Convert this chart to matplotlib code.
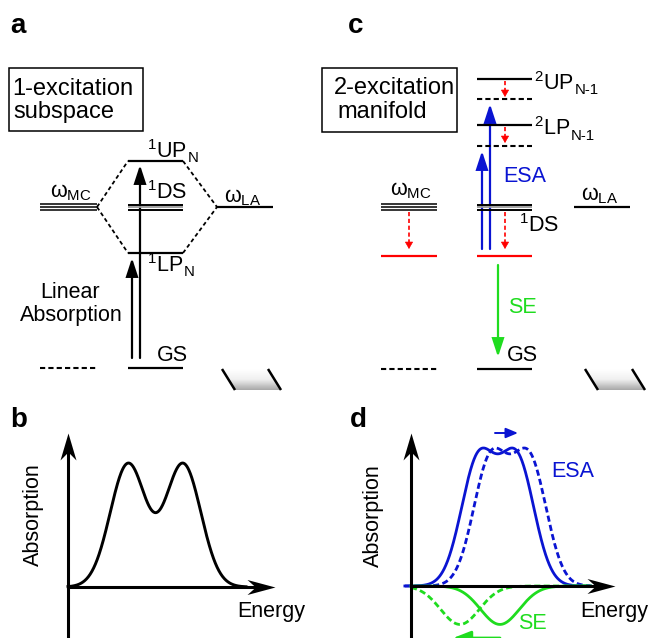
import numpy as np
import matplotlib
matplotlib.use('Agg')
import matplotlib.pyplot as plt
from matplotlib.patches import Rectangle, Polygon, FancyArrowPatch
from matplotlib.path import Path
from matplotlib.colors import LinearSegmentedColormap

plt.rcParams['font.family'] = ['Liberation Sans', 'DejaVu Sans']
plt.rcParams['mathtext.fontset'] = 'custom'
plt.rcParams['mathtext.rm'] = 'Liberation Sans'
plt.rcParams['mathtext.it'] = 'Liberation Sans:italic'
plt.rcParams['mathtext.bf'] = 'Liberation Sans:bold'
plt.rcParams['mathtext.default'] = 'regular'

# ---------------- data ----------------
# energy-level diagram (a): level heights (scheme units, top = small)
a_level_up = 161
a_level_mid = 207
a_level_lp = 253
a_level_gs = 368
# energy-level diagram (c)
c_level_2up = 79
c_level_2up_relaxed = 99
c_level_2lp = 125
c_level_2lp_relaxed = 146
c_level_mid = 207
c_level_relaxed = 256
c_level_gs = 369

# spectrum (b): two gaussian polariton peaks
b_centers = [2.9, 5.56]
b_width = 0.86
b_amp = 0.991
# spectrum (d): ESA band, shifted ESA, SE dips
d_esa_centers = [3.3, 5.2]
d_esa_width = 0.84
d_esa_amp = 1.01
d_esa_shift = 0.6
d_se_center = 4.36
d_se_center_shifted = 2.4
d_se_width = 0.95
d_se_depth = 0.31

BLUE = '#0a14d2'
GREEN = '#1fdc1f'
RED = '#ff0000'

W, H = 650, 638
fig = plt.figure(figsize=(6.5, 6.38), dpi=100)
ax = fig.add_axes([0, 0, 1, 1])
ax.set_xlim(0, W)
ax.set_ylim(H, 0)
ax.axis('off')

FS = 15.5


def level(x0, x1, y, color='k', lw=1.6, ls='-'):
    ax.plot([x0, x1], [y, y], color=color, lw=lw, ls=ls, solid_capstyle='butt')


def triple(x0, x1, y):
    for dy in (-3, 0, 3):
        ax.plot([x0, x1], [y + dy, y + dy], color='k', lw=1.1, solid_capstyle='butt')


def double(x0, x1, y):
    ax.plot([x0, x1], [y - 2.5, y - 2.5], color='k', lw=1.4, solid_capstyle='butt')
    ax.plot([x0, x1], [y, y], color='#9a9a9a', lw=1.3, solid_capstyle='butt')
    ax.plot([x0, x1], [y + 2.5, y + 2.5], color='k', lw=1.4, solid_capstyle='butt')


def arrow(x0, y0, x1, y1, color, lw=1.6, hl=11, hw=3.6):
    p = FancyArrowPatch((x0, y0), (x1, y1),
                        arrowstyle=f'-|>,head_length={hl},head_width={hw}',
                        mutation_scale=1, color=color, lw=lw,
                        shrinkA=0, shrinkB=0, joinstyle='miter')
    ax.add_patch(p)


def dashed_arrow(x, y0, y1, color=RED):
    ax.plot([x, x], [y0, y1 - 5], color=color, lw=1.2, ls=(0, (2.5, 1.6)))
    arrow(x, y1 - 6, x, y1, color, lw=0.5, hl=4.5, hw=2.6)


def gradient_para(xl, xr, yt, dx, yb):
    poly = Polygon([[xl, yt], [xr, yt], [xr + dx, yb], [xl + dx, yb]],
                   closed=True, facecolor='none', edgecolor='none')
    ax.add_patch(poly)
    cmap = LinearSegmentedColormap.from_list('g', ['#ffffff', '#f0f0f0', '#a8a8a8'])
    grad = np.linspace(0, 1, 64).reshape(-1, 1)
    im = ax.imshow(grad, cmap=cmap, extent=[xl, xr + dx, yb, yt],
                   aspect='auto', interpolation='bilinear', zorder=1)
    im.set_clip_path(poly)
    ax.plot([xl, xl + dx], [yt, yb], color='k', lw=1.8, solid_capstyle='butt', zorder=2)
    ax.plot([xr, xr + dx], [yt, yb], color='k', lw=1.8, solid_capstyle='butt', zorder=2)
    ax.set_xlim(0, W)
    ax.set_ylim(H, 0)


def label_with_sub(x, y, sup, main, sub, fs=FS):
    """Superscript + main text + small subscript placed as separate text objects."""
    t = ax.text(x, y, f'$^{{{sup}}}${main}', fontsize=fs, va='baseline')
    fig.canvas.draw()
    bb = t.get_window_extent()
    inv = ax.transData.inverted()
    xe, _ = inv.transform((bb.x1, bb.y0))
    ax.text(xe + 0.5, y + 4.5, sub, fontsize=fs * 0.7, va='baseline')


# ---------------- panel a ----------------
ax.text(10, 33, 'a', fontsize=20, fontweight='bold', va='baseline')
ax.add_patch(Rectangle((9, 68), 134, 63, fill=False, lw=1.1, ec='k'))
ax.text(12, 95, '1-excitation', fontsize=17, va='baseline')
ax.text(13, 118, 'subspace', fontsize=17, va='baseline')

triple(40, 97, a_level_mid)
double(128, 183, a_level_mid)
level(217, 273, a_level_mid)
level(128, 183, a_level_up)
level(128, 183, a_level_lp)
level(128, 183, a_level_gs)
level(40, 97, a_level_gs, ls=(0, (2.5, 1.5)), lw=1.5)
for (xa, ya, xb, yb) in [(97, a_level_mid, 128, a_level_up), (97, a_level_mid, 128, a_level_lp),
                         (183, a_level_up, 217, a_level_mid), (183, a_level_lp, 217, a_level_mid)]:
    ax.plot([xa, xb], [ya, yb], color='k', lw=1.3, ls=(0, (2.2, 1.6)))

arrow(132, 358, 132, a_level_lp + 5, 'k')
arrow(140, 358, 140, a_level_up + 4, 'k')

ax.text(71, 197, 'ω$_{\\mathregular{MC}}$', fontsize=FS, ha='center', va='baseline')
ax.text(243, 202, 'ω$_{\\mathregular{LA}}$', fontsize=FS, ha='center', va='baseline')
ax.text(147, 199, '$^{1}$DS', fontsize=FS, va='baseline')
label_with_sub(147, 158, '1', 'UP', 'N')
label_with_sub(147, 272, '1', 'LP', 'N')
ax.text(70, 298, 'Linear', fontsize=FS, ha='center', va='baseline')
ax.text(71, 321, 'Absorption', fontsize=FS, ha='center', va='baseline')
ax.text(172, 361, 'GS', fontsize=FS, ha='center', va='baseline')

gradient_para(222, 268, 369, 13, 390)

# ---------------- panel c ----------------
ax.text(348, 33, 'c', fontsize=20, fontweight='bold', va='baseline')
ax.add_patch(Rectangle((322, 68), 135, 64, fill=False, lw=1.1, ec='k'))
ax.text(334, 94, '2-excitation', fontsize=17, va='baseline')
ax.text(337, 118, 'manifold', fontsize=17, va='baseline')

level(477, 532, c_level_2up)
level(477, 532, c_level_2up_relaxed, ls=(0, (2.5, 1.5)), lw=1.5)
level(477, 532, c_level_2lp)
level(477, 532, c_level_2lp_relaxed, ls=(0, (2.5, 1.5)), lw=1.5)
triple(381, 437, c_level_mid)
double(477, 532, c_level_mid)
level(574, 630, c_level_mid)
level(381, 437, c_level_relaxed, color=RED)
level(477, 532, c_level_relaxed, color=RED)
level(477, 532, c_level_gs)
level(381, 437, c_level_gs, ls=(0, (2.5, 1.5)), lw=1.5)

dashed_arrow(505, c_level_2up + 2, c_level_2up_relaxed - 2)
dashed_arrow(505, c_level_2lp + 2, c_level_2lp_relaxed - 3)
dashed_arrow(409, c_level_mid + 5, c_level_relaxed - 7)
dashed_arrow(505, c_level_mid + 5, c_level_relaxed - 7)

arrow(482, c_level_relaxed - 7, 482, c_level_2lp_relaxed + 5, BLUE)
arrow(490, c_level_relaxed - 7, 490, c_level_2up_relaxed + 5, BLUE)
arrow(498, 265, 498, 357, GREEN)

label_with_sub(534, 90, '2', 'UP', 'N-1')
label_with_sub(534, 135, '2', 'LP', 'N-1')
ax.text(525, 182, 'ESA', fontsize=FS, color=BLUE, ha='center', va='baseline')
ax.text(411, 195, 'ω$_{\\mathregular{MC}}$', fontsize=FS, ha='center', va='baseline')
ax.text(600, 200, 'ω$_{\\mathregular{LA}}$', fontsize=FS, ha='center', va='baseline')
ax.text(519, 232, '$^{1}$DS', fontsize=FS, va='baseline')
ax.text(522, 313, 'SE', fontsize=FS, color=GREEN, ha='center', va='baseline')
ax.text(522, 361, 'GS', fontsize=FS, ha='center', va='baseline')

gradient_para(585, 632, 369, 13, 390)


# ---------------- spectra panels ----------------
def make_panel(ox, oy, sx, sy, x0, x1, y0, y1):
    axp = fig.add_axes([x0 / W, 1 - y1 / H, (x1 - x0) / W, (y1 - y0) / H])
    axp.set_xlim((x0 - ox) / sx, (x1 - ox) / sx)
    axp.set_ylim((oy - y1) / sy, (oy - y0) / sy)
    axp.axis('off')
    axp.patch.set_alpha(0)
    return axp


def stealth(axp, x, y, angle, L_px, W_px, color='k', notch=0.3):
    L = L_px * 0.72
    Wd = W_px * 0.72
    v = np.array([[0, 0], [-L, Wd / 2], [-L * (1 - notch), 0], [-L, -Wd / 2], [0, 0]])
    a = np.deg2rad(angle)
    R = np.array([[np.cos(a), -np.sin(a)], [np.sin(a), np.cos(a)]])
    v = v @ R.T
    m = np.max(np.abs(v))
    path = Path(v, [Path.MOVETO, Path.LINETO, Path.LINETO, Path.LINETO, Path.CLOSEPOLY])
    axp.plot([x], [y], marker=path, ms=2 * m, color=color, mew=0,
             linestyle='none', clip_on=False, zorder=6)


def axes_arrows(axp, ytip, xtip, sx, sy):
    ybot = axp.get_ylim()[0]
    axp.plot([0, 0], [ybot, ytip - 12 / sy], color='k', lw=2.2, zorder=5,
             solid_capstyle='butt', clip_on=False)
    axp.plot([0, xtip - 12 / sx], [0, 0], color='k', lw=2.2, zorder=5,
             solid_capstyle='butt', clip_on=False)
    stealth(axp, 0, ytip, 90, 27, 16)
    stealth(axp, xtip, 0, 0, 28, 15)


def gauss(E, c, w):
    return np.exp(-(E - c) ** 2 / (2 * w ** 2))


# panel b
ax.text(10, 427, 'b', fontsize=20, fontweight='bold', va='baseline')
sxb, syb = 20.7, 124.0
axb = make_panel(68, 587, sxb, syb, 0, 325, 395, 638)
Eb = np.linspace(0, 8.6, 500)
yb = b_amp * sum(gauss(Eb, c, b_width) for c in b_centers)
axb.plot(Eb, yb, color='k', lw=2.1, zorder=4)
axes_arrows(axb, (587 - 433) / syb, (275 - 68) / sxb, sxb, syb)
ax.text(33, 515, 'Absorption', fontsize=FS, rotation=90, ha='center', va='center')
ax.text(271, 617, 'Energy', fontsize=FS, ha='center', va='baseline')

# panel d
ax.text(350, 427, 'd', fontsize=20, fontweight='bold', va='baseline')
sxd, syd = 20.4, 124.0
axd = make_panel(411, 586, sxd, syd, 325, 650, 395, 638)
Ed = np.linspace(-0.3, 8.8, 600)
esa = d_esa_amp * sum(gauss(Ed, c, d_esa_width) for c in d_esa_centers)
esa_s = d_esa_amp * sum(gauss(Ed, c + d_esa_shift, d_esa_width) for c in d_esa_centers)
axd.plot(Ed, esa, color=BLUE, lw=2.0, zorder=3)
axd.plot(Ed, esa_s, color=BLUE, lw=2.0, ls=(0, (2.2, 1.2)), zorder=3)
Eg = np.linspace(0, 8.8, 600)
axd.plot(Eg, -d_se_depth * gauss(Eg, d_se_center, d_se_width), color=GREEN, lw=2.0, zorder=3)
axd.plot(Eg, -d_se_depth * gauss(Eg, d_se_center_shifted, d_se_width), color=GREEN, lw=2.0,
         ls=(0, (2.2, 1.2)), zorder=3)
axes_arrows(axd, (586 - 433) / syd, (615 - 411) / sxd, sxd, syd)
# shift arrows
axd.annotate('', xy=((518 - 411) / sxd, (586 - 433) / syd), xytext=((495 - 411) / sxd, (586 - 433) / syd),
             arrowprops=dict(arrowstyle='-|>,head_length=0.6,head_width=0.25', color=BLUE, lw=1.4,
                             shrinkA=0, shrinkB=0, mutation_scale=12))
axd.annotate('', xy=((453 - 411) / sxd, (586 - 638) / syd), xytext=((500 - 411) / sxd, (586 - 638) / syd),
             arrowprops=dict(arrowstyle='-|>,head_length=0.9,head_width=0.35', color=GREEN, lw=2.0,
                             shrinkA=0, shrinkB=0, mutation_scale=12), annotation_clip=False)
ax.text(373, 516, 'Absorption', fontsize=FS, rotation=90, ha='center', va='center')
ax.text(614, 617, 'Energy', fontsize=FS, ha='center', va='baseline')
ax.text(573, 477, 'ESA', fontsize=FS, color=BLUE, ha='center', va='baseline')
ax.text(532, 629, 'SE', fontsize=FS, color=GREEN, ha='center', va='baseline')

fig.savefig('out.png', dpi=100)
